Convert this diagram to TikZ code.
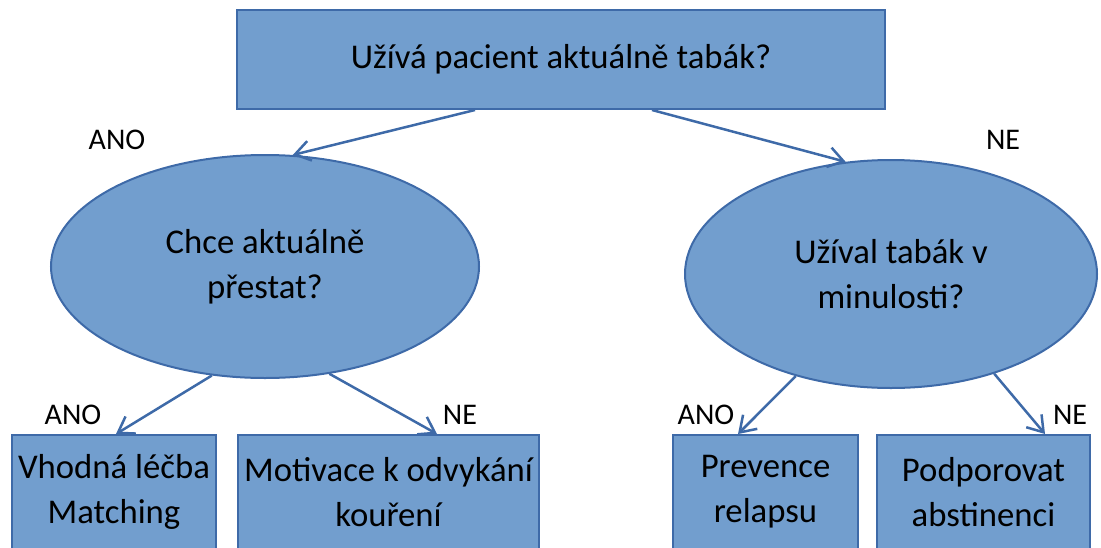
\documentclass[tikz,border=0pt]{standalone}
\usepackage{fontspec}
\setmainfont{Carlito}
\usetikzlibrary{arrows.meta,shapes.geometric}
\definecolor{boxfill}{RGB}{114,158,206}
\definecolor{boxline}{RGB}{62,106,168}

\begin{document}
\begin{tikzpicture}[x=1pt, y=-1pt,
		qbox/.style={draw=boxline, line width=2pt, fill=boxfill, inner sep=0pt, align=center, font=\fontsize{34.7}{45}\selectfont},
		qell/.style={qbox, ellipse},
		answer/.style={font=\fontsize{30}{36}\selectfont},
		arr/.style={draw=boxline, line width=2.5pt, -{Straight Barb[length=15pt,width=20pt]}}]
		%%%%% START %%%%%
		
		\useasboundingbox (0, 0) rectangle (1101, 547);
		\clip (0, 0) rectangle (1101, 547);
		
		\node[qbox, minimum width=648, minimum height=99] (q0) at (561, 59.5) {Užívá pacient aktuálně tabák?};
		
		\node[qell, minimum width=428, minimum height=223] (qL) at (265, 266.5) {Chce aktuálně\\přestat?};
		\node[qell, minimum width=412, minimum height=228] (qR) at (891, 274) {Užíval tabák v\\minulosti?};
		
		\node[qbox, minimum width=204, minimum height=114] (b1) at (114, 492) {Vhodná léčba\\Matching};
		\node[qbox, minimum width=301, minimum height=114] (b2) at (388.5, 492) {Motivace k odvykání\\kouření};
		\node[qbox, minimum width=185, minimum height=114] (b3) at (765.5, 492) {Prevence\\relapsu};
		\node[qbox, minimum width=213, minimum height=114] (b4) at (983.5, 492) {Podporovat\\abstinenci};
		
		\draw[arr] ([xshift=-86pt]q0.south) -- (qL.76);
		\draw[arr] ([xshift=91pt]q0.south) -- (qR.112);
		\draw[arr] (qL.-116) -- ([xshift=2pt]b1.north);
		\draw[arr] (qL.-59) -- ([xshift=48.5pt]b2.north);
		\draw[arr] (qR.-133) -- ([xshift=-27.5pt]b3.north);
		\draw[arr] (qR.-44) -- ([xshift=61.5pt]b4.north);
		
		\node[answer] (a0) at (117, 140) {ANO};
		\node[answer] (n0) at (1003, 140) {NE};
		\node[answer] (a1) at (73, 415) {ANO};
		\node[answer] (n1) at (460, 415) {NE};
		\node[answer] (a2) at (706, 415) {ANO};
		\node[answer] (n2) at (1070, 415) {NE};
		
		%%%%% END %%%%%
	\end{tikzpicture}
\end{document}
